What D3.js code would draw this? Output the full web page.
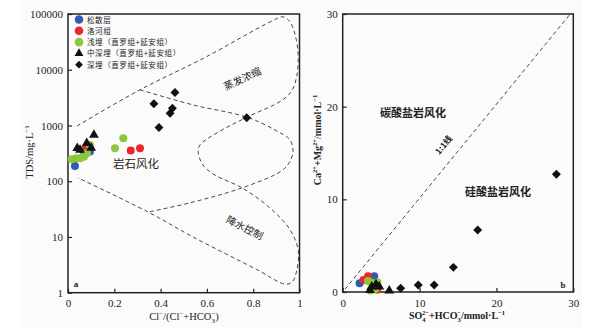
<!DOCTYPE html>
<html>
<head>
<meta charset="utf-8">
<script src="https://cdn.jsdelivr.net/npm/d3@7"></script>
<style>
  body { margin: 0; background: #fff; }
  svg text { fill: #222; }
</style>
</head>
<body>
<div class="container"></div>
<script>
/* serif - Liberation Serif
   cjk - Noto Sans CJK SC
*/
var width = 599;
var height = 329;
var serif = "'Liberation Serif', 'DejaVu Serif', serif";
var cjk = "'Noto Sans CJK SC', sans-serif";
var colors = {blue: "#2f5cb0", red: "#e8282c", green: "#8dc63f", black: "#111"};

// legend
var legend_names = ["松散层", "洛河组", "浅埋（直罗组+延安组）", "中深埋（直罗组+延安组）", "深埋（直罗组+延安组）"];
var legend_kinds = ["blue", "red", "green", "triangle", "diamond"];

// panel a: Cl/(Cl+HCO3) vs TDS
var xTicksA = [0, 0.2, 0.4, 0.6, 0.8, 1.0];
var yTicksA = [1, 10, 100, 1000, 10000, 100000];
var a_blue = [[0.030, 188], [0.095, 340], [0.066, 355]];
var a_red = [[0.073, 375], [0.271, 355], [0.311, 390]];
var a_green = [[0.016, 248], [0.035, 257], [0.052, 258], [0.069, 274], [0.082, 318], [0.095, 448], [0.203, 390], [0.239, 590]];
var a_triangle = [[0.040, 390], [0.052, 365], [0.081, 480], [0.112, 680], [0.100, 395]];
var a_diamond = [[0.371, 2450], [0.462, 3900], [0.451, 2040], [0.441, 1660], [0.393, 920], [0.772, 1380]];

// Gibbs boundaries (dashed)
var gibbs_outer = [[0.039, 980], [0.311, 4370], [0.592, 16600], [0.873, 72000], [0.929, 89000], [0.959, 72000],
  [0.981, 42700], [0.994, 18600], [0.989, 8100], [0.968, 4270], [0.924, 2820], [0.773, 1410], [0.644, 740],
  [0.570, 447], [0.562, 339], [0.583, 195], [0.635, 129], [0.752, 76], [0.873, 33], [0.959, 13.5],
  [0.994, 5.9], [0.989, 2.6], [0.968, 1.55], [0.937, 1.43], [0.816, 2.6], [0.540, 10], [0.346, 28], [0.043, 115]];
var gibbs_inner = [[0.311, 4370], [0.540, 2340], [0.773, 1410], [0.894, 830], [0.959, 550], [0.972, 339],
  [0.955, 214], [0.920, 151], [0.752, 76], [0.527, 41], [0.346, 28]];

// panel b: SO4+HCO3 vs Ca+Mg
var xTicksB = [0, 10, 20, 30];
var yTicksB = [0, 10, 20, 30];
var b_blue = [[2.2, 0.95], [4.1, 1.7], [3.6, 1.5]];
var b_red = [[2.7, 1.3], [3.3, 1.7], [4.5, 0.25]];
var b_green = [[3.3, 1.2], [4.5, 1.05], [3.6, 0.15], [4.0, 0.9], [3.9, 0.4], [4.3, 0.5], [3.7, 1.0], [4.2, 0.3]];
var b_triangle = [[6.06, 0.14], [3.77, 0.57], [4.33, 0.83], [4.76, 0.57], [3.55, 0.2]];
var b_diamond = [[27.8, 12.7], [17.56, 6.69], [14.4, 2.66], [11.9, 0.75], [9.83, 0.75], [7.54, 0.4]];
var one_to_one = [[0.3, 0.3], [29.5, 29.9]];

var svg = d3.select(".container").append("svg")
  .attr("width", width).attr("height", height);

svg.append("rect").attr("x", 21).attr("y", 0).attr("width", 561).attr("height", 327).attr("fill", "#fbfbfb");

var xA = d3.scaleLinear().domain([0, 1]).range([68, 299.5]);
var yA = d3.scaleLog().domain([1, 100000]).range([292.7, 14]);
var xB = d3.scaleLinear().domain([0, 30]).range([342.7, 573.3]);
var yB = d3.scaleLinear().domain([0, 30]).range([292, 14]);

///////////////////////////////////////////////////////////////////////////////////
// functions
function draw_frame(xs, ys, xticks, yticks, yfmt) {
  var g = svg.append("g");
  var x0 = xs.range()[0], x1 = xs.range()[1], y0 = ys.range()[0], y1 = ys.range()[1];
  var xAxis = d3.axisBottom(xs).tickValues(xticks).tickSize(-4).tickPadding(7).tickFormat(d3.format(""));
  var yAxis = d3.axisLeft(ys).tickValues(yticks).tickSize(-4).tickPadding(5).tickFormat(yfmt);
  g.append("g").attr("transform", "translate(0," + y0 + ")").call(xAxis);
  g.append("g").attr("transform", "translate(" + x0 + ",0)").call(yAxis);
  g.selectAll(".domain").remove();
  g.selectAll(".tick line").attr("stroke", "#222").attr("stroke-width", 1.2);
  g.selectAll(".tick text").attr("font-family", serif).attr("font-size", 11).attr("fill", "#222");
  g.append("rect").attr("x", x0).attr("y", y1).attr("width", x1 - x0).attr("height", y0 - y1)
    .attr("fill", "none").attr("stroke", "#222").attr("stroke-width", 1.5);
}

function draw_marks(xs, ys, pts, kind) {
  var g = svg.append("g");
  if (kind == "triangle" || kind == "diamond") {
    var sym = kind == "triangle" ? d3.symbol().type(d3.symbolTriangle).size(42) : d3.symbol().type(d3.symbolSquare).size(40);
    g.selectAll("path").data(pts).enter().append("path")
      .attr("d", sym)
      .attr("transform", (d) => "translate(" + xs(d[0]) + "," + ys(d[1]) + ")" + (kind == "diamond" ? " rotate(45)" : ""))
      .attr("fill", colors.black);
  } else {
    g.selectAll("circle").data(pts).enter().append("circle")
      .attr("cx", (d) => xs(d[0])).attr("cy", (d) => ys(d[1])).attr("r", 4)
      .attr("fill", colors[kind]);
  }
}

function draw_dashed(xs, ys, pts, curve) {
  var line = d3.line().x((d) => xs(d[0])).y((d) => ys(d[1])).curve(curve);
  svg.append("path").attr("d", line(pts)).attr("fill", "none")
    .attr("stroke", "#333").attr("stroke-width", 0.9).attr("stroke-dasharray", "4,3");
}

function add_text(x, y, txt, font, size, rot, weight) {
  return svg.append("text").attr("x", x).attr("y", y)
    .attr("text-anchor", "middle").attr("font-family", font).attr("font-size", size)
    .attr("font-weight", weight || "normal")
    .attr("transform", rot ? "rotate(" + rot + "," + x + "," + y + ")" : null)
    .text(txt);
}

//-----------------------------------------
// 1. PANEL A
draw_frame(xA, yA, xTicksA, yTicksA, d3.format("d"));
draw_dashed(xA, yA, gibbs_outer, d3.curveCatmullRom.alpha(0.5));
draw_dashed(xA, yA, gibbs_inner, d3.curveCatmullRom.alpha(0.5));

[["blue", a_blue], ["red", a_red], ["green", a_green], ["triangle", a_triangle], ["diamond", a_diamond]]
  .forEach((p) => draw_marks(xA, yA, p[1], p[0]));

add_text(244, 82, "蒸发浓缩", cjk, 10, -25);
add_text(136, 168, "岩石风化", cjk, 11.5);
add_text(243, 231, "降水控制", cjk, 10, 27);
add_text(76, 287, "a", serif, 9, 0, "bold");

// legend
var legend = svg.selectAll(".legend").data(legend_names).enter().append("g").attr("class", "legend")
  .attr("transform", (d, i) => "translate(79," + (19.5 + i * 11.3) + ")");
legend.each(function(d, i) {
  var k = legend_kinds[i];
  var g = d3.select(this);
  if (k == "triangle") g.append("path").attr("d", d3.symbol().type(d3.symbolTriangle).size(34)).attr("fill", colors.black);
  else if (k == "diamond") g.append("path").attr("d", d3.symbol().type(d3.symbolSquare).size(30)).attr("transform", "rotate(45)").attr("fill", colors.black);
  else g.append("circle").attr("r", 4.3).attr("fill", colors[k]);
  g.append("text").attr("x", 8).attr("y", 3).attr("font-family", cjk).attr("font-size", 7.6)
    .attr("letter-spacing", 0.5).text(d);
});

// axis titles
var ta = svg.append("text").attr("transform", "translate(33,152) rotate(-90)")
  .attr("text-anchor", "middle").attr("font-family", serif).attr("font-size", 10.5);
ta.append("tspan").text("TDS/mg·L");
ta.append("tspan").attr("dy", -4).attr("font-size", 7).text("−1");

var xa = svg.append("text").attr("x", 184).attr("y", 320)
  .attr("text-anchor", "middle").attr("font-family", serif).attr("font-size", 10.5);
xa.append("tspan").text("Cl");
xa.append("tspan").attr("dy", -4).attr("font-size", 7).text("−");
xa.append("tspan").attr("dy", 4).text("/(Cl");
xa.append("tspan").attr("dy", -4).attr("font-size", 7).text("−");
xa.append("tspan").attr("dy", 4).text("+HCO");
xa.append("tspan").attr("dy", 3).attr("font-size", 7).text("3");
xa.append("tspan").attr("dx", -3.5).attr("dy", -7).attr("font-size", 7).text("−");
xa.append("tspan").attr("dy", 4).text(")");

//-----------------------------------------
// 2. PANEL B
draw_frame(xB, yB, xTicksB, yTicksB, d3.format("d"));
draw_dashed(xB, yB, one_to_one, d3.curveLinear);
[["blue", b_blue], ["red", b_red], ["green", b_green], ["triangle", b_triangle], ["diamond", b_diamond]]
  .forEach((p) => draw_marks(xB, yB, p[1], p[0]));

add_text(413, 117, "碳酸盐岩风化", cjk, 11, 0, "bold");
add_text(498, 196, "硅酸盐岩风化", cjk, 11, 0, "bold");
add_text(446, 147, "1:1线", cjk, 8.5, -50, "bold");
add_text(563, 288, "b", serif, 9, 0, "bold");

var tb = svg.append("text").attr("transform", "translate(321,140) rotate(-90)")
  .attr("text-anchor", "middle").attr("font-family", serif).attr("font-size", 10).attr("font-weight", "bold");
tb.append("tspan").text("Ca");
tb.append("tspan").attr("dy", -4).attr("font-size", 6.5).text("2+");
tb.append("tspan").attr("dy", 4).text("+Mg");
tb.append("tspan").attr("dy", -4).attr("font-size", 6.5).text("2+");
tb.append("tspan").attr("dy", 4).text("/mmol·L");
tb.append("tspan").attr("dy", -4).attr("font-size", 6.5).text("−1");

var xb = svg.append("text").attr("x", 457).attr("y", 319)
  .attr("text-anchor", "middle").attr("font-family", serif).attr("font-size", 10).attr("font-weight", "bold");
xb.append("tspan").text("SO");
xb.append("tspan").attr("dy", 3).attr("font-size", 6.5).text("4");
xb.append("tspan").attr("dx", -3.5).attr("dy", -7).attr("font-size", 6.5).text("2−");
xb.append("tspan").attr("dy", 4).text("+HCO");
xb.append("tspan").attr("dy", 3).attr("font-size", 6.5).text("3");
xb.append("tspan").attr("dx", -3.5).attr("dy", -7).attr("font-size", 6.5).text("−");
xb.append("tspan").attr("dy", 4).text("/mmol·L");
xb.append("tspan").attr("dy", -4).attr("font-size", 6.5).text("−1");
</script>
</body>
</html>
